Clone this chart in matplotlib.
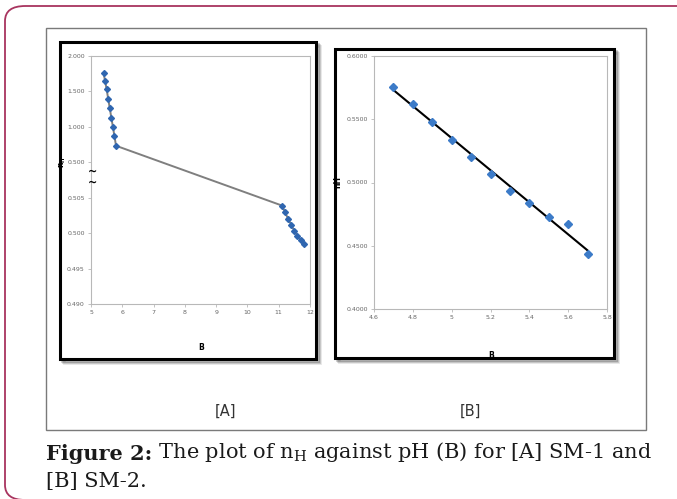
"""Recreate Figure 2: n_H against pH (B) for SM-1 and SM-2."""

import numpy as np
import matplotlib
matplotlib.use("Agg")
import matplotlib.pyplot as plt
from matplotlib.patches import Rectangle, FancyBboxPatch

# [A] SM-1 (broken y axis)
ph_a = [5.40, 5.45, 5.50, 5.55, 5.60, 5.65, 5.70, 5.75, 5.80,
        11.1, 11.2, 11.3, 11.4, 11.5, 11.6, 11.7, 11.8]
nh_a = [1.762, 1.648, 1.529, 1.395, 1.262, 1.129, 1.000, 0.867, 0.733,
        0.5039, 0.5030, 0.5020, 0.5012, 0.5003, 0.4996, 0.4991, 0.4985]
yticks_a = ["0.490", "0.495", "0.500", "0.505", "0.500", "1.000", "1.500", "2.000"]
xticks_a = [5, 6, 7, 8, 9, 10, 11, 12]

# [B] SM-2
ph_b = [4.7, 4.8, 4.9, 5.0, 5.1, 5.2, 5.3, 5.4, 5.5, 5.6, 5.7]
nh_b = [0.5758, 0.5618, 0.5482, 0.5339, 0.5203, 0.5066,
        0.4932, 0.4839, 0.4729, 0.4671, 0.4432]
xticks_b = [4.6, 4.8, 5.0, 5.2, 5.4, 5.6, 5.8]
xlabels_b = ["4.6", "4.8", "5", "5.2", "5.4", "5.6", "5.8"]
yticks_b = [0.40, 0.45, 0.50, 0.55, 0.60]

W, H = 677, 499
BLUE = "#2f66b0"
TICK_C = "#666666"
SPINE_C = "#b8b8b8"


def fwd(y):
    y = np.asarray(y, dtype=float)
    return np.where(y <= 0.505, (y - 0.49) / 0.005,
                    np.where(y >= 0.6, 5 + (y - 1.0) * 2,
                             3 + (y - 0.505) / 0.095 * 1.2))


def inv(p):
    p = np.asarray(p, dtype=float)
    return np.where(p <= 3, 0.49 + p * 0.005,
                    np.where(p >= 4.2, 1.0 + (p - 5) / 2,
                             0.505 + (p - 3) / 1.2 * 0.095))


def fx(px):
    return px / W


def fy(py):
    return 1 - py / H


def box(fig, x0, y0, x1, y1, **kw):
    r = Rectangle((fx(x0), fy(y1)), fx(x1 - x0), (y1 - y0) / H,
                  transform=fig.transFigure, fill=False, zorder=-2, **kw)
    fig.patches.append(r)


def style(ax):
    for s in ax.spines.values():
        s.set_color(SPINE_C)
        s.set_linewidth(0.8)
    ax.tick_params(length=2.5, width=0.6, color=SPINE_C, labelsize=4.5,
                   labelcolor=TICK_C, pad=2)


def main() -> None:
    fig = plt.figure(figsize=(W / 100, H / 100), dpi=100)
    bg = fig.add_axes([0, 0, 1, 1], zorder=-5)
    bg.set_xlim(0, 1)
    bg.set_ylim(0, 1)
    bg.axis("off")

    # outer rounded border
    outer = FancyBboxPatch((fx(5), fy(500)), fx(780), 494 / H,
                           boxstyle="round,pad=0,rounding_size=0.03",
                           transform=fig.transFigure, fill=False, zorder=-3,
                           edgecolor="#a8345f", linewidth=1.3)
    fig.patches.append(outer)
    box(fig, 46, 28, 646, 430, edgecolor="#7a7a7a", linewidth=1.0)

    # panel frames with shadows
    for (x0, y0, x1, y1) in [(60, 42, 316, 359), (335, 49, 614, 358)]:
        for off, a in [(4, 0.10), (3, 0.15), (2, 0.2)]:
            box(fig, x0 + off, y0 + off, x1 + off, y1 + off,
                edgecolor="black", linewidth=2.0, alpha=a)
        r = Rectangle((fx(x0), fy(y1)), fx(x1 - x0), (y1 - y0) / H,
                      transform=fig.transFigure, facecolor="white",
                      edgecolor="black", linewidth=2.2, zorder=-1)
        fig.patches.append(r)

    # [A]
    ax = fig.add_axes([fx(91), fy(304), fx(310 - 91), (304 - 56) / H])
    ax.patch.set_alpha(0)
    ax.set_yscale("function", functions=(fwd, inv))
    ax.plot(ph_a, nh_a, color="#7f7f7f", linewidth=1.4, zorder=2)
    ax.plot(ph_a, nh_a, linestyle="none", marker="D", markersize=3.0,
            color=BLUE, zorder=3)
    ax.set_xlim(5, 12)
    ax.set_ylim(0.490, 2.0)
    ax.set_xticks(xticks_a)
    ax.set_xticklabels([str(v) for v in xticks_a])
    ax.set_yticks([0.490, 0.495, 0.500, 0.505, float(inv(4)), 1.0, 1.5, 2.0])
    ax.set_yticklabels(yticks_a)
    ax.minorticks_off()
    style(ax)
    ax.set_xlabel("B", fontsize=5.5, fontweight="bold")
    ax.xaxis.set_label_coords(0.502, -0.157)
    ax.set_ylabel("n$_\\mathregular{H}$", fontsize=5.5, fontweight="bold")
    ax.yaxis.set_label_coords(-0.105, 0.573)
    for py in (172, 183):
        fig.text(fx(92.5), fy(py), "~", fontsize=8, fontweight="bold",
                 ha="center", va="center")

    # [B]
    bx = fig.add_axes([fx(374), fy(309), fx(607 - 374), (309 - 56) / H])
    bx.patch.set_alpha(0)
    bx.plot(ph_b, nh_b, linestyle="none", marker="D", markersize=3.6,
            color="#3c7bc8", zorder=3)
    k, c = np.polyfit(ph_b, nh_b, 1)
    xs = np.array([ph_b[0], ph_b[-1]])
    bx.plot(xs, k * xs + c, color="black", linewidth=1.5, zorder=2)
    bx.set_xlim(4.6, 5.8)
    bx.set_ylim(0.40, 0.60)
    bx.set_xticks(xticks_b)
    bx.set_xticklabels(xlabels_b)
    bx.set_yticks(yticks_b)
    bx.set_yticklabels([f"{v:.4f}" for v in yticks_b])
    style(bx)
    bx.set_xlabel("B", fontsize=5.5, fontweight="bold")
    bx.xaxis.set_label_coords(0.502, -0.165)
    bx.set_ylabel("nH", fontsize=5.5, fontweight="bold")
    bx.yaxis.set_label_coords(-0.137, 0.502)

    # panel tags
    for px, tag in [(226, "[A]"), (470, "[B]")]:
        fig.text(fx(px), fy(411), tag, fontsize=10.5, ha="center", va="center",
                 family="Liberation Sans Narrow", color="#333333")

    # caption
    cap = dict(fontsize=15, family="DejaVu Serif", color="#1a1a1a")
    t1 = bg.text(fx(46), fy(460), "Figure 2:", fontweight="bold",
                 va="baseline", ha="left", **cap)
    bg.annotate(" The plot of n$_\\mathregular{H}$ against pH (B) for [A] SM-1 and",
                xy=(1, 0), xycoords=t1, va="bottom", ha="left", **cap)
    bg.text(fx(46), fy(487), "[B] SM-2.", va="baseline", ha="left", **cap)

    fig.savefig("out.png", dpi=100)
    plt.close(fig)


if __name__ == "__main__":
    main()
